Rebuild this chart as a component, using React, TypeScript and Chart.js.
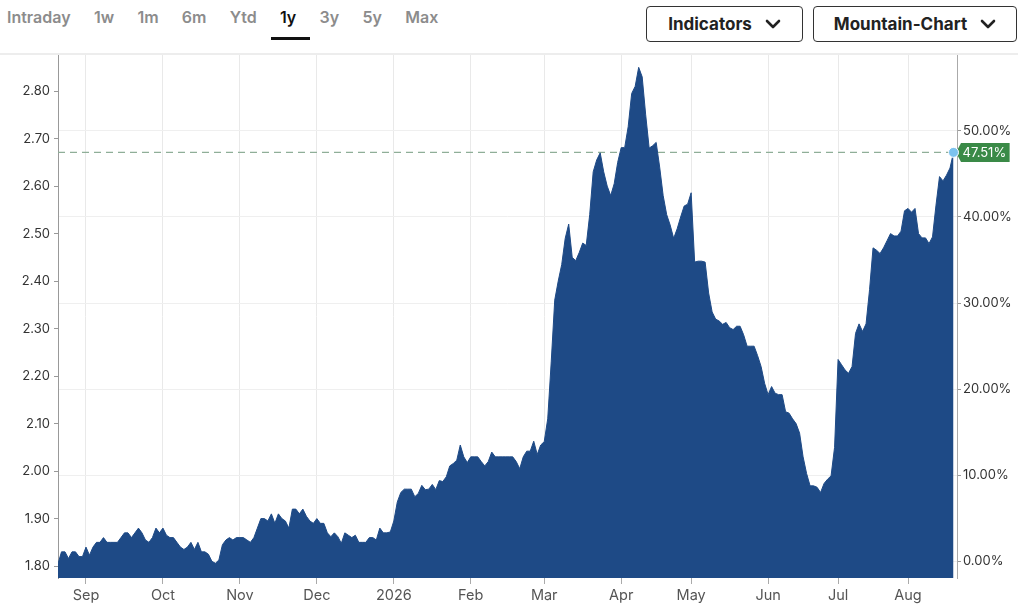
import React, { useEffect, useRef } from 'react';
import { Chart, registerables } from 'chart.js';

Chart.register(...registerables);

// ---------- data ----------
const periodTabs = ['Intraday', '1w', '1m', '6m', 'Ytd', '1y', '3y', '5y', 'Max'];
const activeTab = '1y';
const menuButtons = ['Indicators', 'Mountain-Chart'];

// session index at which each month starts, and its axis label
const monthStartIndex = [8, 30, 52, 74, 96, 118, 139, 161, 181, 203, 223, 243];
const monthLabels = ['Sep', 'Oct', 'Nov', 'Dec', '2026', 'Feb', 'Mar', 'Apr', 'May', 'Jun', 'Jul', 'Aug'];

// closing prices, one per session (index 0 = first session)
const priceValues = [
  1.805, 1.83, 1.83, 1.816, 1.83, 1.83, 1.82, 1.82, 1.84, 1.823,
  1.84, 1.85, 1.85, 1.86, 1.85, 1.85, 1.85, 1.85, 1.86, 1.87,
  1.87, 1.86, 1.87, 1.88, 1.87, 1.855, 1.85, 1.86, 1.88, 1.87,
  1.88, 1.865, 1.86, 1.86, 1.85, 1.84, 1.835, 1.84, 1.85, 1.835,
  1.85, 1.83, 1.83, 1.825, 1.81, 1.806, 1.813, 1.845, 1.855, 1.86,
  1.855, 1.86, 1.86, 1.86, 1.855, 1.85, 1.86, 1.88, 1.9, 1.9,
  1.895, 1.91, 1.89, 1.91, 1.9, 1.895, 1.88, 1.92, 1.92, 1.91,
  1.92, 1.905, 1.895, 1.89, 1.9, 1.89, 1.89, 1.87, 1.862, 1.87,
  1.862, 1.848, 1.87, 1.865, 1.86, 1.865, 1.85, 1.85, 1.85, 1.86,
  1.86, 1.855, 1.88, 1.87, 1.87, 1.872, 1.895, 1.935, 1.955, 1.962,
  1.962, 1.962, 1.946, 1.953, 1.97, 1.961, 1.962, 1.972, 1.961, 1.98,
  1.978, 1.988, 2.011, 2.016, 2.023, 2.055, 2.03, 2.018, 2.03, 2.03,
  2.03, 2.02, 2.011, 2.02, 2.04, 2.03, 2.03, 2.03, 2.03, 2.03,
  2.03, 2.02, 2.005, 2.03, 2.042, 2.042, 2.063, 2.035, 2.055, 2.062,
  2.11, 2.23, 2.36, 2.4, 2.435, 2.49, 2.52, 2.45, 2.443, 2.46,
  2.48, 2.475, 2.54, 2.63, 2.655, 2.67, 2.63, 2.6, 2.58, 2.605,
  2.65, 2.681, 2.681, 2.725, 2.795, 2.81, 2.85, 2.83, 2.75, 2.68,
  2.685, 2.692, 2.64, 2.58, 2.54, 2.518, 2.49, 2.51, 2.535, 2.558,
  2.562, 2.586, 2.44, 2.442, 2.442, 2.44, 2.375, 2.335, 2.32, 2.316,
  2.309, 2.313, 2.302, 2.298, 2.305, 2.305, 2.287, 2.263, 2.263, 2.263,
  2.243, 2.22, 2.185, 2.161, 2.178, 2.164, 2.161, 2.161, 2.125, 2.122,
  2.11, 2.1, 2.08, 2.03, 1.995, 1.969, 1.969, 1.966, 1.955, 1.974,
  1.983, 1.99, 2.05, 2.235, 2.224, 2.213, 2.206, 2.22, 2.29, 2.31,
  2.294, 2.31, 2.382, 2.47, 2.465, 2.458, 2.47, 2.485, 2.5, 2.495,
  2.495, 2.505, 2.548, 2.553, 2.545, 2.553, 2.5, 2.491, 2.491, 2.479,
  2.493, 2.56, 2.62, 2.611, 2.623, 2.638, 2.671,
];

const priceTicks = [1.8, 1.9, 2.0, 2.1, 2.2, 2.3, 2.4, 2.5, 2.6, 2.7, 2.8];
const percentTicks = [0, 10, 20, 30, 40, 50];
const basePrice = 1.8107; // reference price for the % axis
const priceMin = 1.775;
const priceMax = 2.876;
const sessionMax = 257;

// ---------- styles ----------
const FONT = 'Inter, "Liberation Sans", sans-serif';
const FILL = '#1e4a86';

const toPercent = (p: number) => (p / basePrice - 1) * 100;

const lastPricePlugin = {
  id: 'lastPrice',
  beforeDatasetsDraw(chart: any) {
    const { ctx, chartArea, scales } = chart;
    const last = priceValues[priceValues.length - 1];
    const y = scales.y.getPixelForValue(last);
    ctx.save();
    ctx.strokeStyle = '#8fae98';
    ctx.lineWidth = 1.3;
    ctx.setLineDash([7, 5]);
    ctx.beginPath();
    ctx.moveTo(chartArea.left, y);
    ctx.lineTo(chartArea.right, y);
    ctx.stroke();
    ctx.restore();
  },
  afterDatasetsDraw(chart: any) {
    const { ctx, chartArea } = chart;
    const meta = chart.getDatasetMeta(0);
    const pt = meta.data[meta.data.length - 1];
    if (!pt) return;
    const last = priceValues[priceValues.length - 1];
    const text = toPercent(last).toFixed(2) + '%';
    const y = pt.y;
    ctx.save();
    ctx.font = '13px ' + FONT;
    const tw = ctx.measureText(text).width;
    const bx = chartArea.right + 4;
    const bw = tw + 5;
    const bh = 19;
    ctx.fillStyle = '#3a8a47';
    ctx.beginPath();
    ctx.moveTo(chartArea.right - 1, y);
    ctx.lineTo(bx, y - bh / 2);
    ctx.lineTo(bx + bw, y - bh / 2);
    ctx.lineTo(bx + bw, y + bh / 2);
    ctx.lineTo(bx, y + bh / 2);
    ctx.closePath();
    ctx.fill();
    ctx.fillStyle = '#ffffff';
    ctx.textBaseline = 'middle';
    ctx.textAlign = 'left';
    ctx.fillText(text, bx + 1.5, y + 0.5);
    // last point marker
    ctx.beginPath();
    ctx.arc(pt.x, y, 5, 0, Math.PI * 2);
    ctx.fillStyle = '#7cc2ee';
    ctx.fill();
    ctx.lineWidth = 1;
    ctx.strokeStyle = '#ffffff';
    ctx.stroke();
    ctx.restore();
  },
};

function Chevron() {
  return (
    <svg width="16" height="10" viewBox="0 0 16 10" style={{ display: 'block' }}>
      <path d="M2 2 L8 8 L14 2" fill="none" stroke="#222" strokeWidth="2.6" strokeLinecap="round" strokeLinejoin="round" />
    </svg>
  );
}

export default function App() {
  const canvasRef = useRef<HTMLCanvasElement | null>(null);

  useEffect(() => {
    if (!canvasRef.current) return;
    const points = priceValues.map((v, i) => ({ x: i, y: v }));
    const chart = new Chart(canvasRef.current, {
      type: 'line',
      data: {
        datasets: [
          {
            data: points,
            fill: 'start',
            backgroundColor: FILL,
            borderColor: FILL,
            borderWidth: 1,
            pointRadius: 0,
            tension: 0,
            yAxisID: 'y',
          },
        ],
      },
      options: {
        animation: false,
        responsive: true,
        maintainAspectRatio: false,
        layout: { padding: 0 },
        plugins: { legend: { display: false }, tooltip: { enabled: false } },
        events: [],
        scales: {
          x: {
            type: 'linear',
            min: 0,
            max: sessionMax,
            afterBuildTicks: (axis: any) => {
              axis.ticks = monthStartIndex.map((v) => ({ value: v }));
            },
            afterFit: (s: any) => {
              s.height = 35;
              s.paddingLeft = 0;
              s.paddingRight = 0;
            },
            ticks: {
              autoSkip: false,
              maxRotation: 0,
              padding: 3,
              color: '#555',
              font: { family: FONT, size: 14.5 },
              callback: (v: any) => {
                const k = monthStartIndex.indexOf(Number(v));
                return k >= 0 ? monthLabels[k] : '';
              },
            },
            grid: { color: '#e9e9e9', tickColor: '#aaa', tickLength: 6, lineWidth: 1 },
            border: { display: false },
          },
          y: {
            type: 'linear',
            position: 'left',
            min: priceMin,
            max: priceMax,
            afterBuildTicks: (axis: any) => {
              axis.ticks = priceTicks.map((v) => ({ value: v }));
            },
            afterFit: (s: any) => {
              s.width = 58;
              s.paddingTop = 0;
              s.paddingBottom = 0;
            },
            ticks: {
              padding: 4,
              color: '#333',
              font: { family: FONT, size: 13 },
              callback: (v: any) => Number(v).toFixed(2),
            },
            grid: { drawOnChartArea: false, tickColor: '#999', tickLength: 4 },
            border: { display: true, color: '#999', width: 1 },
          },
          y2: {
            type: 'linear',
            position: 'right',
            min: toPercent(priceMin),
            max: toPercent(priceMax),
            afterBuildTicks: (axis: any) => {
              axis.ticks = percentTicks.map((v) => ({ value: v }));
            },
            afterFit: (s: any) => {
              s.width = 67;
              s.paddingTop = 0;
              s.paddingBottom = 0;
            },
            ticks: {
              padding: 2,
              color: '#333',
              font: { family: FONT, size: 13 },
              callback: (v: any) => Number(v).toFixed(2) + '%',
            },
            grid: { color: '#efefef', tickColor: '#999', tickLength: 4 },
            border: { display: true, color: '#aaa', width: 1 },
          },
        },
      } as any,
      plugins: [lastPricePlugin],
    });
    return () => chart.destroy();
  }, []);

  return (
    <div
      style={{
        position: 'fixed',
        left: 0,
        top: 0,
        width: 1024,
        height: 613,
        background: '#fff',
        overflow: 'hidden',
        fontFamily: FONT,
      }}
    >
      {/* period tabs */}
      <div style={{ position: 'absolute', left: 7, top: 0, height: 34, display: 'flex', alignItems: 'center', gap: 23.3 }}>
        {periodTabs.map((t) => (
          <span
            key={t}
            style={{
              position: 'relative',
              fontSize: 16,
              fontWeight: 600,
              color: t === activeTab ? '#111' : '#8c8c8c',
              lineHeight: '34px',
            }}
          >
            {t}
            {t === activeTab && (
              <span
                style={{
                  position: 'absolute',
                  left: '50%',
                  marginLeft: -17,
                  width: 39,
                  top: 37,
                  height: 3,
                  background: '#111',
                }}
              />
            )}
          </span>
        ))}
      </div>
      {/* dropdown buttons */}
      {menuButtons.map((b, i) => (
        <div
          key={b}
          style={{
            position: 'absolute',
            left: i === 0 ? 646 : 813,
            top: 6,
            width: i === 0 ? 157 : 204,
            height: 36,
            boxSizing: 'border-box',
            border: '1.5px solid #333',
            borderRadius: 4,
            display: 'flex',
            alignItems: 'center',
            justifyContent: 'center',
            gap: 13,
            fontSize: 17,
            fontWeight: 700,
            color: '#222',
          }}
        >
          <span>{b}</span>
          <Chevron />
        </div>
      ))}
      {/* separator */}
      <div style={{ position: 'absolute', left: 0, top: 53, width: 1018, height: 2, background: '#ededed' }} />
      {/* chart */}
      <div style={{ position: 'absolute', left: 0, top: 55, width: 1024, height: 558 }}>
        <canvas ref={canvasRef} />
      </div>
    </div>
  );
}
